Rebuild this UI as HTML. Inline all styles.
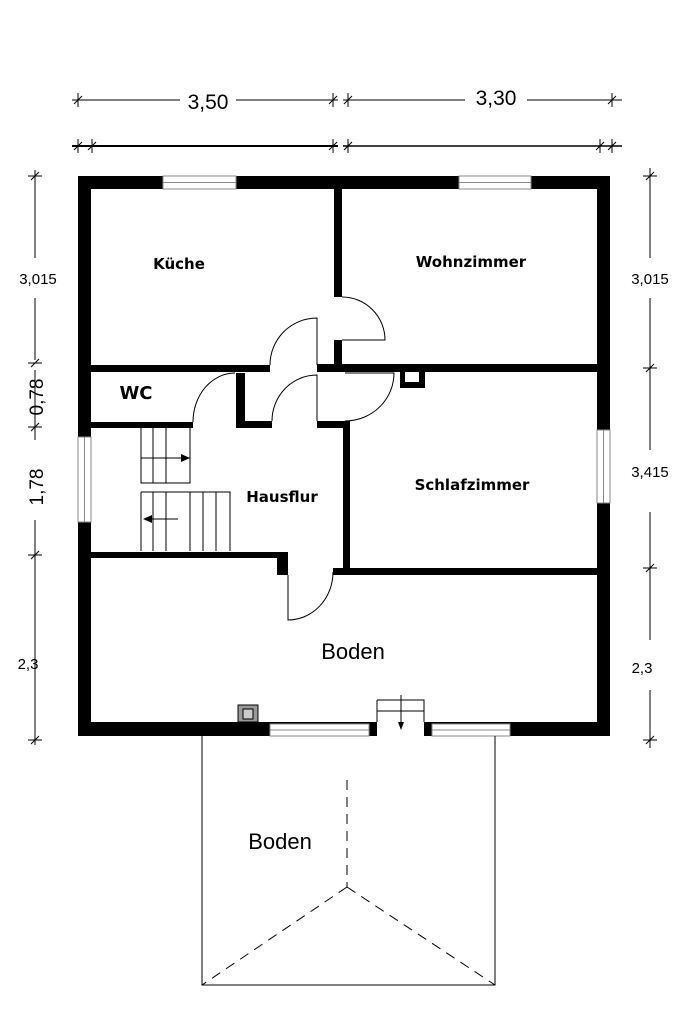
<!DOCTYPE html>
<html><head><meta charset="utf-8"><style>body{margin:0;background:#fff}svg{display:block}</style></head><body>
<svg width="682" height="1023" viewBox="0 0 682 1023" xmlns="http://www.w3.org/2000/svg" font-family="Liberation Sans, sans-serif">
<rect width="682" height="1023" fill="#fff"/>
<g stroke="#000" stroke-width="1" fill="none">
<line x1="72" y1="100" x2="180" y2="100"/><line x1="236" y1="100" x2="338" y2="100"/>
<line x1="343" y1="100" x2="465" y2="100"/><line x1="527" y1="100" x2="622" y2="100"/>
<line x1="78" y1="93" x2="78" y2="107"/><line x1="333" y1="93" x2="333" y2="107"/><line x1="348" y1="93" x2="348" y2="107"/><line x1="612" y1="93" x2="612" y2="107"/>
<line x1="74" y1="104" x2="82" y2="96"/><line x1="329" y1="104" x2="337" y2="96"/><line x1="344" y1="104" x2="352" y2="96"/><line x1="608" y1="104" x2="616" y2="96"/>
<line x1="72" y1="146" x2="338" y2="146" stroke-width="2"/><line x1="343" y1="146" x2="622" y2="146" stroke-width="1.5"/>
<line x1="78" y1="139" x2="78" y2="153"/><line x1="92" y1="139" x2="92" y2="153"/><line x1="333" y1="139" x2="333" y2="153"/><line x1="348" y1="139" x2="348" y2="153"/><line x1="600" y1="139" x2="600" y2="153"/><line x1="612" y1="139" x2="612" y2="153"/>
<line x1="74" y1="150" x2="82" y2="142"/><line x1="88" y1="150" x2="96" y2="142"/><line x1="329" y1="150" x2="337" y2="142"/><line x1="344" y1="150" x2="352" y2="142"/><line x1="596" y1="150" x2="604" y2="142"/><line x1="608" y1="150" x2="616" y2="142"/>
<line x1="35" y1="170" x2="35" y2="258"/><line x1="35" y1="298" x2="35" y2="360"/><line x1="35" y1="370" x2="35" y2="440"/><line x1="35" y1="520" x2="35" y2="745"/>
<line x1="28" y1="176" x2="42" y2="176"/><line x1="28" y1="363" x2="42" y2="363"/><line x1="28" y1="427" x2="42" y2="427"/><line x1="28" y1="555" x2="42" y2="555"/><line x1="28" y1="740" x2="42" y2="740"/>
<line x1="31" y1="180" x2="39" y2="172"/><line x1="31" y1="367" x2="39" y2="359"/><line x1="31" y1="431" x2="39" y2="423"/><line x1="31" y1="559" x2="39" y2="551"/><line x1="31" y1="744" x2="39" y2="736"/>
<line x1="650" y1="168" x2="650" y2="258"/><line x1="650" y1="298" x2="650" y2="450"/><line x1="650" y1="512" x2="650" y2="640"/><line x1="650" y1="690" x2="650" y2="748"/>
<line x1="643" y1="176" x2="657" y2="176"/><line x1="643" y1="368" x2="657" y2="368"/><line x1="643" y1="568" x2="657" y2="568"/><line x1="643" y1="740" x2="657" y2="740"/>
<line x1="646" y1="180" x2="654" y2="172"/><line x1="646" y1="372" x2="654" y2="364"/><line x1="646" y1="572" x2="654" y2="564"/><line x1="646" y1="744" x2="654" y2="736"/>
</g>
<g font-size="21" fill="#000"><text x="208" y="109" text-anchor="middle">3,50</text><text x="496" y="105" text-anchor="middle">3,30</text></g>
<g font-size="15" fill="#000"><text x="38" y="284" text-anchor="middle">3,015</text><text x="650" y="284" text-anchor="middle">3,015</text><text x="650" y="477" text-anchor="middle">3,415</text><text x="28" y="669" text-anchor="middle">2,3</text><text x="642" y="673" text-anchor="middle">2,3</text></g>
<text font-size="19" transform="translate(43,397) rotate(-90)" text-anchor="middle">0,78</text>
<text font-size="19" transform="translate(43,487) rotate(-90)" text-anchor="middle">1,78</text>
<g fill="#000">
<rect x="78" y="176" width="532" height="13"/>
<rect x="78" y="176" width="13" height="560"/>
<rect x="597" y="176" width="13" height="560"/>
<rect x="78" y="722" width="532" height="14"/>
<rect x="334" y="189" width="8" height="108"/>
<rect x="334" y="340" width="8" height="30"/>
<rect x="91" y="365" width="179" height="7"/>
<rect x="317" y="364" width="293" height="8"/>
<rect x="91" y="422" width="102" height="6"/>
<rect x="236" y="373" width="9" height="55"/>
<rect x="236" y="421" width="36" height="7"/>
<rect x="317" y="421" width="33" height="7"/>
<rect x="343" y="421" width="7" height="151"/>
<rect x="91" y="552" width="192" height="6"/>
<rect x="277" y="552" width="11" height="23"/>
<rect x="333" y="568" width="277" height="7"/>
<rect x="400" y="372" width="25" height="16"/>
</g>
<rect x="405" y="372" width="14" height="10" fill="#fff"/>
<g fill="#fff" stroke="#888" stroke-width="1">
<rect x="163" y="176" width="73" height="13"/><line x1="163" y1="182.5" x2="236" y2="182.5"/>
<rect x="459" y="176" width="72" height="13"/><line x1="459" y1="182.5" x2="531" y2="182.5"/>
<rect x="78" y="437" width="13" height="85"/><line x1="84.5" y1="437" x2="84.5" y2="522"/>
<rect x="597" y="430" width="13" height="73"/><line x1="603.5" y1="430" x2="603.5" y2="503"/>
<rect x="270" y="724" width="99" height="12"/><line x1="270" y1="730" x2="369" y2="730"/>
<rect x="432" y="724" width="78" height="12"/><line x1="432" y1="730" x2="510" y2="730"/>
</g>
<rect x="377" y="720" width="47" height="18" fill="#fff"/>
<g stroke="#000" stroke-width="1" fill="none">
<path d="M342 297 A43 43 0 0 1 385 340 L342 340"/>
<path d="M317 365 L317 318 A47 47 0 0 0 270 365"/>
<path d="M235 373 A42 49 0 0 0 193 422"/>
<path d="M317 421 L317 375 A45 46 0 0 0 272 421"/>
<path d="M345 373 L394 373 A49 48 0 0 1 345 421"/>
<path d="M288 575 L288 620 A45 48 0 0 0 333 572"/>
<path d="M141 428 V483 H190 V428 M153 428 V483 M166 428 V483 M141 458 H190"/>
<path d="M141 492 H230 V551 M141 492 V551 M153 492 V551 M166 492 V551 M190 492 V551 M203 492 V551 M216 492 V551"/>
<line x1="160" y1="458" x2="185" y2="458"/><line x1="148" y1="519" x2="178" y2="519"/>
<path d="M377 700 H424 V722 M377 700 V722 M377 711 H424"/>
<line x1="401" y1="695" x2="401" y2="729"/>
</g>
<path d="M190 458 L181 454 L181 462Z M143 519 L152 515 L152 523Z M401 730 L398 722 L404 722Z" fill="#000"/>
<rect x="238" y="705" width="20" height="17" fill="#999" stroke="#000" stroke-width="1"/>
<rect x="243" y="709" width="10" height="10" fill="#ccc" stroke="#000" stroke-width="1"/>
<g stroke="#000" stroke-width="1" fill="none">
<path d="M202 736 V985 H495 V736"/>
<path d="M347 780 V887 M347 887 L202 985 M347 887 L495 985" stroke-dasharray="10,7"/>
</g>
<g font-weight="bold" fill="#000" font-size="15" font-family="DejaVu Sans, sans-serif">
<text x="179" y="269" text-anchor="middle">Küche</text>
<text x="471" y="267" text-anchor="middle">Wohnzimmer</text>
<text x="136" y="399" text-anchor="middle" font-size="18">WC</text>
<text x="282" y="502" text-anchor="middle">Hausflur</text>
<text x="472" y="490" text-anchor="middle">Schlafzimmer</text>
</g>
<text x="353" y="659" font-size="22" text-anchor="middle">Boden</text>
<text x="280" y="849" font-size="22" text-anchor="middle">Boden</text>
</svg>
</body></html>
